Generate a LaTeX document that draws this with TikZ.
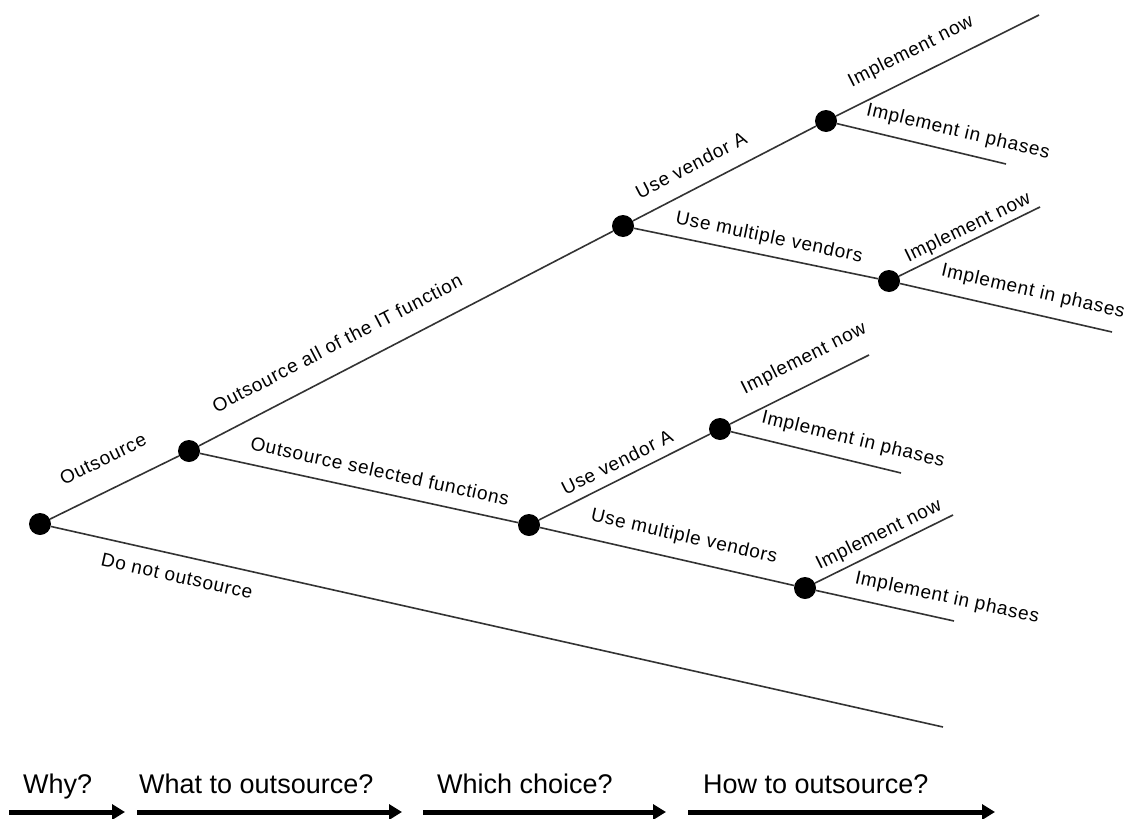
\documentclass[tikz,border=0pt]{standalone}
\usepackage{fontspec}
\setmainfont{Liberation Sans}
\newfontfamily\lblfont{Liberation Sans}[LetterSpace=4]
\usetikzlibrary{arrows.meta}
\begin{document}
\begin{tikzpicture}[x=1pt,y=-1pt,
  dot/.style={circle,fill=black,inner sep=0pt,minimum size=22pt},
  branch/.style={line width=1.6pt,draw=black!80},
  lbl/.style={inner sep=0pt,font=\lblfont\fontsize{19}{22}\selectfont},
  stage/.style={anchor=base west,inner sep=0pt,font=\fontsize{27}{32}\selectfont},
  flow/.style={line width=5pt,-{Triangle[length=13pt,width=15pt]}}]
\useasboundingbox[fill=white] (0,0) rectangle (1127,819);

% decision points
\node[dot] (n0) at (40,524) {};
\node[dot] (n1) at (189,451) {};
\node[dot] (n2) at (623,226) {};
\node[dot] (n3) at (529,525) {};
\node[dot] (n4) at (826,121) {};
\node[dot] (n5) at (889,281) {};
\node[dot] (n6) at (720,429) {};
\node[dot] (n7) at (805,588) {};

% free ends
\coordinate (e0) at (943,727);
\coordinate (e4a) at (1039,15);
\coordinate (e4b) at (1006,164);
\coordinate (e5a) at (1040,207);
\coordinate (e5b) at (1112,332);
\coordinate (e6a) at (869,355);
\coordinate (e6b) at (901,473);
\coordinate (e7a) at (953,515);
\coordinate (e7b) at (954,621);

% branches
\draw[branch] (n0) -- (n1);
\draw[branch] (n0) -- (e0);
\draw[branch] (n1) -- (n2);
\draw[branch] (n1) -- (n3);
\draw[branch] (n2) -- (n4);
\draw[branch] (n2) -- (n5);
\draw[branch] (n3) -- (n6);
\draw[branch] (n3) -- (n7);
\draw[branch] (n4) -- (e4a);
\draw[branch] (n4) -- (e4b);
\draw[branch] (n5) -- (e5a);
\draw[branch] (n5) -- (e5b);
\draw[branch] (n6) -- (e6a);
\draw[branch] (n6) -- (e6b);
\draw[branch] (n7) -- (e7a);
\draw[branch] (n7) -- (e7b);

% branch labels
\node[lbl,rotate=26.1] (l01) at (103,459) {Outsource};
\node[lbl,rotate=27.4] (l12) at (337,343) {Outsource all of the IT function};
\node[lbl,rotate=-12.7] (l0e) at (177,576) {Do not outsource};
\node[lbl,rotate=-12.3] (l13) at (380,471) {Outsource selected functions};
\node[lbl,rotate=27.3] (l24) at (691,165) {Use vendor A};
\node[lbl,rotate=-11.7] (l25) at (769,238) {Use multiple vendors};
\node[lbl,rotate=26.7] (l36) at (617,462) {Use vendor A};
\node[lbl,rotate=-12.9] (l37) at (684,537) {Use multiple vendors};
\node[lbl,rotate=26.6] (l4a) at (911,52) {Implement now};
\node[lbl,rotate=-13.4] (l4b) at (958,132) {Implement in phases};
\node[lbl,rotate=26] (l5a) at (968,228) {Implement now};
\node[lbl,rotate=-12.9] (l5b) at (1033,292) {Implement in phases};
\node[lbl,rotate=26.6] (l6a) at (804,359) {Implement now};
\node[lbl,rotate=-13.7] (l6b) at (853,440) {Implement in phases};
\node[lbl,rotate=26.3] (l7a) at (879,535) {Implement now};
\node[lbl,rotate=-12.2] (l7b) at (947,598) {Implement in phases};

% stages
\node[stage] (s1) at (23,793) {Why?};
\node[stage] (s2) at (139,793) {What to outsource?};
\node[stage] (s3) at (437,793) {Which choice?};
\node[stage] (s4) at (703,793) {How to outsource?};

\coordinate (a1s) at (9,812);   \coordinate (a1e) at (125,812);
\coordinate (a2s) at (137,812); \coordinate (a2e) at (402,812);
\coordinate (a3s) at (423,812); \coordinate (a3e) at (666,812);
\coordinate (a4s) at (688,812); \coordinate (a4e) at (995,812);
\draw[flow] (a1s) -- (a1e);
\draw[flow] (a2s) -- (a2e);
\draw[flow] (a3s) -- (a3e);
\draw[flow] (a4s) -- (a4e);
\end{tikzpicture}
\end{document}
